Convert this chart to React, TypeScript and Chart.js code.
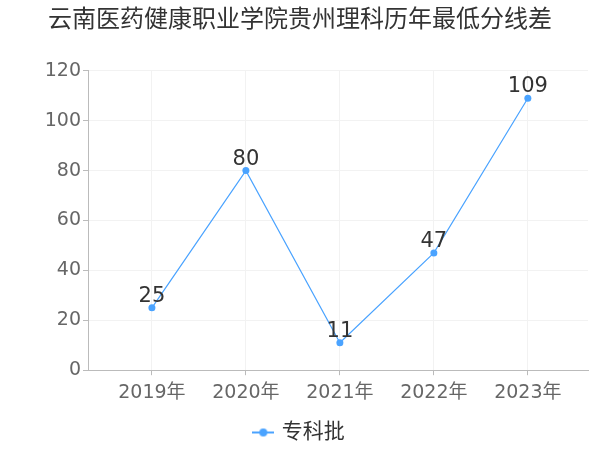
import React, { useEffect, useRef } from "react";
import { Chart, registerables } from "chart.js";

Chart.register(...registerables);

const titleText = "云南医药健康职业学院贵州理科历年最低分线差";
const categories = ["2019年", "2020年", "2021年", "2022年", "2023年"];
const seriesName = "专科批";
const seriesValues = [25, 80, 11, 47, 109];
const yTicks = [0, 20, 40, 60, 80, 100, 120];

const FONT = "'DejaVu Sans', 'Noto Sans CJK SC', sans-serif";
const LINE_COLOR = "#4aa3ff";

function makeLegendMarker(): HTMLCanvasElement {
  const c = document.createElement("canvas");
  c.width = 22;
  c.height = 10;
  const ctx = c.getContext("2d")!;
  ctx.strokeStyle = LINE_COLOR;
  ctx.lineWidth = 2;
  ctx.beginPath();
  ctx.moveTo(0, 5);
  ctx.lineTo(22, 5);
  ctx.stroke();
  ctx.fillStyle = LINE_COLOR;
  ctx.beginPath();
  ctx.arc(11, 5, 4, 0, Math.PI * 2);
  ctx.fill();
  return c;
}

const labelPlugin = {
  id: "valueLabels",
  afterDatasetsDraw(chart: any) {
    const ctx = chart.ctx;
    const meta = chart.getDatasetMeta(0);
    ctx.save();
    ctx.font = `21px ${FONT}`;
    ctx.fillStyle = "#333";
    ctx.textAlign = "center";
    ctx.textBaseline = "bottom";
    meta.data.forEach((pt: any, i: number) => {
      ctx.fillText(String(seriesValues[i]), pt.x, pt.y - 1);
    });
    ctx.restore();
  },
};

export default function App() {
  const ref = useRef<HTMLCanvasElement>(null);
  useEffect(() => {
    const chart = new Chart(ref.current!, {
      type: "line",
      data: {
        datasets: [
          {
            label: seriesName,
            data: seriesValues.map((v, i) => ({ x: i, y: v })),
            borderColor: LINE_COLOR,
            backgroundColor: LINE_COLOR,
            borderWidth: 1.2,
            pointRadius: 3.5,
            pointHoverRadius: 3.5,
            pointBorderWidth: 0,
            pointStyle: "circle",
            tension: 0,
          },
        ],
      },
      options: {
        animation: false,
        responsive: false,
        maintainAspectRatio: false,
        layout: { padding: { left: 12, right: 12, top: 0, bottom: -3 } },
        plugins: {
          title: {
            display: true,
            text: titleText,
            color: "#333",
            font: { family: FONT, size: 24, weight: "normal" },
            padding: { top: 6, bottom: 36 },
          },
          legend: {
            position: "bottom",
            labels: {
              usePointStyle: true,
              pointStyle: makeLegendMarker() as any,
              pointStyleWidth: 16,
              color: "#333",
              font: { family: FONT, size: 21 },
              padding: 12,
            },
          },
          tooltip: { enabled: false },
        },
        scales: {
          x: {
            type: "linear",
            min: -0.68,
            max: 4.64,
            afterBuildTicks: (scale: any) => {
              scale.ticks = categories.map((_, i) => ({ value: i }));
            },
            ticks: {
              color: "#666",
              font: { family: FONT, size: 19 },
              callback: (v: any) => categories[v as number] ?? "",
              maxRotation: 0,
              autoSkip: false,
              padding: 6,
            },
            grid: { color: "#f2f2f2", tickColor: "#bbb", tickLength: 5 },
            border: { color: "#bbb" },
          },
          y: {
            min: 0,
            max: 120,
            afterBuildTicks: (scale: any) => {
              scale.ticks = yTicks.map((v) => ({ value: v }));
            },
            afterFit: (scale: any) => {
              scale.width = 76;
            },
            ticks: {
              color: "#666",
              font: { family: FONT, size: 19 },
              padding: 2,
            },
            grid: { color: "#f2f2f2", tickColor: "#bbb", tickLength: 5 },
            border: { color: "#bbb" },
          },
        },
      },
      plugins: [labelPlugin],
    });
    return () => chart.destroy();
  }, []);
  return (
    <div style={{ position: "fixed", left: 0, top: 0, width: 600, height: 450, background: "#fff" }}>
      <canvas ref={ref} width={600} height={450} style={{ display: "block" }} />
    </div>
  );
}
